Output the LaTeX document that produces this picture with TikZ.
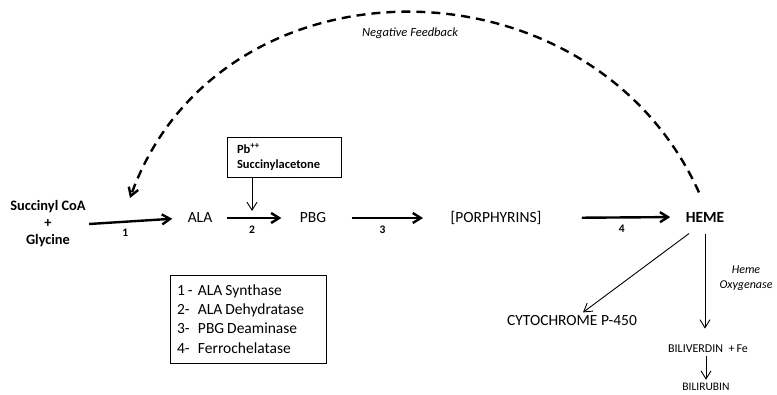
\documentclass[tikz,border=0pt]{standalone}
\usepackage{fontspec}
\setmainfont{Carlito}
\usetikzlibrary{arrows.meta,positioning}
\tikzset{>={Straight Barb[length=8pt,width=10pt]}}
\newcommand{\enzno}[1]{\makebox[21pt][l]{#1}}
\newcommand{\tightsp}{\spaceskip=3pt plus 1pt\relax}

\begin{document}
\begin{tikzpicture}[x=1pt,y=-1pt,
  mol/.style={font=\fontsize{15.5}{17}\selectfont},
  rxn/.style={->,line width=2.4pt},
  thinarr/.style={->,line width=0.9pt},
  num/.style={font=\bfseries\fontsize{11.5}{13}\selectfont,below=3pt},
  feedback/.style={->,line width=2.4pt,dash pattern=on 9pt off 6pt}]

\useasboundingbox (0,0) rectangle (777,395);

% pathway
\node[align=center,font=\bfseries\fontsize{14.4}{17}\selectfont] (sub) at (48,224) {Succinyl CoA\\+\\Glycine};
\node[mol] (ala) at (200,218) {ALA};
\node[mol] (pbg) at (313,218) {PBG};
\node[mol] (porph) at (496,218) {[PORPHYRINS]};
\node[font=\bfseries\fontsize{15.5}{17}\selectfont] (heme) at (705,217) {HEME};

\draw[rxn,shorten >=12pt] (sub.east) -- node[num,pos=0.38]{1} (ala.west);
\draw[rxn,shorten <=11pt,shorten >=15pt] (ala.east) -- node[num,pos=0.45]{2} (pbg.west);
\draw[rxn,shorten <=22pt,shorten >=24pt] (pbg.east) -- node[num,pos=0.45]{3} (porph.west);
\draw[rxn,shorten <=37pt,shorten >=12pt] (porph.east) -- node[num,pos=0.56]{4} (heme.west);

% inhibitors
\node[draw,align=left,font=\bfseries\fontsize{12.5}{15}\selectfont,text width=94pt,inner xsep=10pt,minimum height=40pt] (pb) at (284,157) {Pb\textsuperscript{++}\\Succinylacetone};
\coordinate (inh) at (252,211);
\draw[thinarr] (inh |- pb.south) -- (inh);

% feedback
\coordinate (fbend) at (130,198);
\draw[feedback] (heme.north) ++(-6,-16) .. controls (590,-49) and (219,-49) .. (fbend);
\node[font=\itshape\fontsize{12.5}{14}\selectfont] (neg) at (410,33) {Negative Feedback};

% enzymes
\node[draw,align=left,font=\fontsize{15.5}{19.3}\selectfont,text width=142pt,inner xsep=7pt,minimum height=88pt] (enz) at (248,319)
  {\tightsp\enzno{1 -}ALA Synthase\\\enzno{2-}ALA Dehydratase\\\enzno{3-}PBG Deaminase\\\enzno{4-}Ferrochelatase};

% products of heme
\node[mol] (cyto) at (572,321) {CYTOCHROME P-450};
\node[font=\fontsize{12}{13}\selectfont] (bili) at (708,349) {BILIVERDIN\ \ +\,Fe};
\node[font=\fontsize{11.5}{13}\selectfont] (rub) at (706,387) {BILIRUBIN};
\node[align=center,font=\itshape\fontsize{12}{15}\selectfont] (ho) at (746,278) {Heme\\Oxygenase};

\draw[thinarr] ([shift={(-16pt,-8pt)}]heme.south) -- ([xshift=11pt]cyto.north);
\draw[thinarr,shorten >=13pt] ([yshift=-8pt]heme.south) -- (heme.south |- bili.north);
\draw[thinarr] (bili.south -| rub) -- (rub.north);

\end{tikzpicture}
\end{document}
